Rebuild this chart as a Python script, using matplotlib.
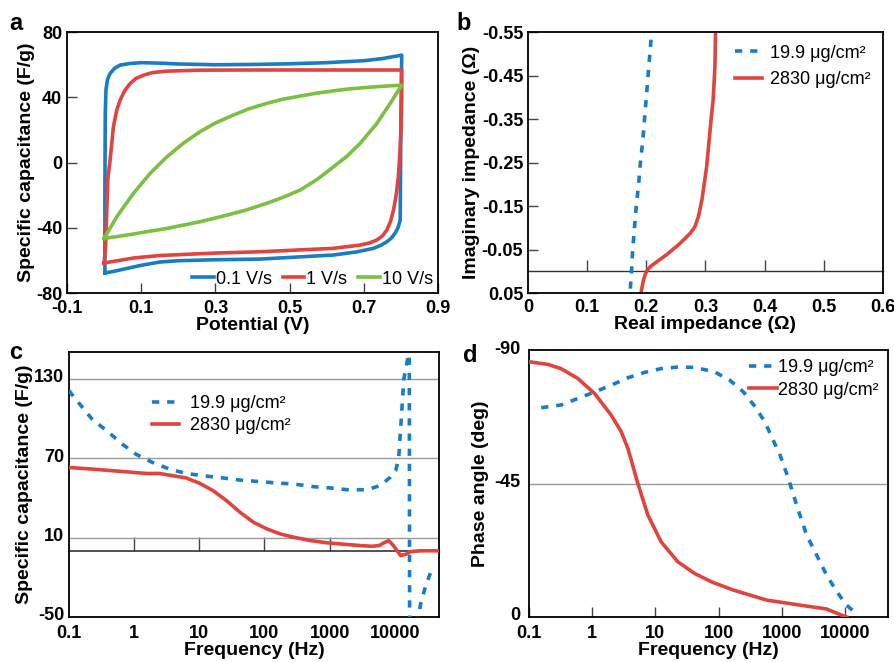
import matplotlib
matplotlib.use("Agg")
import matplotlib.pyplot as plt
import matplotlib.ticker as mticker
import matplotlib.transforms as mtransforms

plt.rcParams['font.family'] = ['Liberation Sans', 'DejaVu Sans']
plt.rcParams['axes.unicode_minus'] = False

# ---------------- Data ----------------
# Panel a: CV curves (Potential V, Specific capacitance F/g)
cv01_fwd_v = [0.002, 0.002, 0.003, 0.005, 0.009, 0.016, 0.028, 0.043, 0.07, 0.10, 0.15, 0.20, 0.30, 0.40, 0.50, 0.60, 0.70, 0.75, 0.802]
cv01_fwd_c = [-67.7, -20, 30, 45, 51, 54.7, 57.8, 59.8, 60.8, 61.3, 61.0, 60.5, 60.0, 60.2, 60.6, 61.3, 62.5, 63.8, 65.9]
cv01_rev_v = [0.802, 0.800, 0.799, 0.798, 0.792, 0.784, 0.774, 0.762, 0.745, 0.726, 0.68, 0.618, 0.42, 0.30, 0.20, 0.15, 0.10, 0.06, 0.02, 0.002]
cv01_rev_c = [65.9, 30, 0, -35.3, -40, -43.4, -46.3, -48.6, -50.8, -52.6, -54.8, -56.7, -59.2, -59.6, -60.2, -61.0, -63.0, -65.0, -67.0, -67.7]

cv1_fwd_v = [0.0, 0.004, 0.007, 0.010, 0.016, 0.025, 0.034, 0.043, 0.055, 0.07, 0.085, 0.106, 0.13, 0.169, 0.258, 0.40, 0.60, 0.802]
cv1_fwd_c = [-61.6, -50, -30, -10, 1.5, 22, 32.2, 38.3, 44, 48.5, 51.5, 53.6, 55.2, 56.1, 56.7, 56.8, 56.8, 56.8]
cv1_rev_v = [0.802, 0.802, 0.800, 0.797, 0.793, 0.787, 0.780, 0.772, 0.762, 0.750, 0.735, 0.715, 0.69, 0.618, 0.42, 0.30, 0.15, 0.08, 0.02, 0.0]
cv1_rev_c = [56.8, 40, 20, 5, -8.7, -20, -29.1, -36, -41.4, -45, -47.5, -49.3, -50.6, -52.6, -54.7, -55.5, -57.0, -58.5, -60.8, -61.6]

cv10_fwd_v = [0.0, 0.034, 0.079, 0.124, 0.169, 0.213, 0.258, 0.30, 0.348, 0.39, 0.438, 0.48, 0.528, 0.57, 0.618, 0.66, 0.708, 0.75, 0.802]
cv10_fwd_c = [-46.5, -33.2, -18.9, -6.6, 3.5, 11.8, 18.9, 24.3, 29.1, 33.0, 36.3, 38.8, 40.8, 42.5, 44.0, 45.2, 46.1, 46.8, 47.5]
cv10_rev_v = [0.802, 0.771, 0.735, 0.69, 0.655, 0.618, 0.575, 0.528, 0.48, 0.438, 0.411, 0.38, 0.348, 0.30, 0.258, 0.21, 0.169, 0.12, 0.079, 0.04, 0.0]
cv10_rev_c = [47.5, 36.3, 24.0, 11.8, 4.0, -2.6, -10.2, -16.9, -21.5, -25.0, -27.0, -29.3, -31.2, -34.0, -36.3, -38.5, -40.4, -42.2, -43.8, -45.2, -46.5]

cv_labels = ['0.1 V/s', '1 V/s', '10 V/s']

# Panel b: Nyquist (Real, Imaginary impedance, Ohm)
nyq_low_re = [0.173, 0.175, 0.177, 0.180, 0.183, 0.187, 0.190, 0.194, 0.197, 0.200, 0.203, 0.206, 0.209]
nyq_low_im = [0.04, 0.0, -0.05, -0.10, -0.15, -0.20, -0.25, -0.30, -0.35, -0.40, -0.45, -0.50, -0.55]
nyq_high_re = [0.191, 0.195, 0.198, 0.2007, 0.206, 0.218, 0.235, 0.257, 0.274, 0.282, 0.288, 0.294, 0.302, 0.310, 0.313, 0.316, 0.317]
nyq_high_im = [0.05, 0.021, 0.008, 0.0, -0.01, -0.022, -0.039, -0.064, -0.087, -0.102, -0.125, -0.164, -0.24, -0.356, -0.394, -0.47, -0.55]

mass_labels = ['19.9 μg/cm²', '2830 μg/cm²']

# Panel c: specific capacitance vs frequency
cap_low_f = [0.1, 0.105, 0.226, 0.41, 0.66, 1.06, 1.92, 3.5, 6.3, 11.4, 23.2, 42.3, 86, 156, 283, 575, 1050, 1900, 3800, 6000, 8600, 10350, 11500, 13800, 16500, 16700, 16900, 22000, 25000, 30000, 38000]
cap_low_c = [121.2, 119.4, 99.4, 89.3, 80.5, 73.0, 66.7, 61.7, 58.4, 56.7, 55.0, 53.4, 52.2, 51.2, 50.4, 48.4, 47.4, 46.1, 46.1, 49.4, 55.6, 60.6, 70, 130, 150, 160, -55, -55, -40, -26, -12.6]
cap_high_f = [0.1, 0.226, 0.74, 1.52, 2.44, 3.92, 6.3, 10.2, 16.3, 26.3, 42.3, 68, 109, 176, 283, 510, 925, 1900, 3000, 4500, 5800, 6800, 8100, 9500, 12300, 15000, 17500, 25000, 48000]
cap_high_c = [62.9, 61.7, 59.7, 58.4, 58.4, 56.7, 55.0, 50.9, 45.4, 37.8, 29.0, 21.5, 16.5, 12.7, 10.2, 7.7, 6.0, 4.7, 3.9, 3.4, 4.0, 6.0, 7.7, 4.0, -3.6, -2.5, -0.6, 0.0, 0.0]

# Panel d: phase angle vs frequency
ph_low_f = [0.156, 0.32, 0.59, 1.09, 2.0, 3.67, 6.75, 12.3, 22.7, 41.7, 86, 150, 245, 380, 540, 690, 940, 1270, 1720, 2480, 3560, 5100, 7400, 10600, 16000]
ph_low_a = [-70.6, -71.5, -73.7, -75.9, -78.2, -80.7, -82.5, -83.8, -84.3, -84.2, -82.7, -79.9, -76.0, -70.9, -65.8, -60.8, -54.6, -46.8, -37.7, -27.6, -20.9, -14.2, -8.6, -4.0, -0.7]
ph_high_f = [0.1, 0.2, 0.32, 0.59, 1.09, 2.0, 2.88, 3.67, 5.29, 7.6, 12.3, 22.7, 41.7, 76.4, 170, 575, 1950, 5100, 9400, 10600]
ph_high_a = [-86.1, -85.2, -83.8, -80.5, -75.4, -68.1, -62.5, -56.9, -45.0, -34.4, -25.4, -18.6, -14.7, -11.9, -9.1, -5.7, -4.0, -2.7, -0.4, 0.0]

freq_ticks = [0.1, 1, 10, 100, 1000, 10000]
freq_ticklabels = ['0.1', '1', '10', '100', '1000', '10000']

# ---------------- Style ----------------
BLUE = '#1a7cc4'
RED = '#e0443f'
GREEN = '#7cbf42'
GRID = '#9a9a9a'
LW = 2.6
DOT = (0, (2.0, 2.2))
TICKFS = 13
LABFS = 14
LEGFS = 13

fig = plt.figure(figsize=(8.94, 6.62), dpi=100)

def style_axes(ax):
    for s in ax.spines.values():
        s.set_linewidth(1.3)
        s.set_color('black')
    ax.tick_params(labelsize=TICKFS, direction='in', length=7, width=1.0, color='#444444')
    for lab in ax.get_xticklabels() + ax.get_yticklabels():
        lab.set_fontweight('bold')

def lift_yticklabels(ax, px):
    off = mtransforms.ScaledTranslation(0, px / 100.0, fig.dpi_scale_trans)
    for lab in ax.get_yticklabels():
        lab.set_transform(lab.get_transform() + off)

# ---- Panel a ----
axa = fig.add_axes([0.075, 0.5574, 0.415, 0.394])
axa.plot(cv01_fwd_v + cv01_rev_v, cv01_fwd_c + cv01_rev_c, color=BLUE, lw=LW, label=cv_labels[0])
axa.plot(cv1_fwd_v + cv1_rev_v, cv1_fwd_c + cv1_rev_c, color=RED, lw=LW, label=cv_labels[1])
axa.plot(cv10_fwd_v + cv10_rev_v, cv10_fwd_c + cv10_rev_c, color=GREEN, lw=LW, label=cv_labels[2])
axa.set_xlim(-0.1, 0.9)
axa.set_ylim(-80, 80)
axa.set_xticks([-0.1, 0.1, 0.3, 0.5, 0.7, 0.9])
axa.set_xticklabels(['-0.1', '0.1', '0.3', '0.5', '0.7', '0.9'])
axa.set_yticks([-80, -40, 0, 40, 80])
style_axes(axa)
axa.tick_params(axis='x', pad=5)
axa.set_xlabel('Potential (V)', fontsize=LABFS, fontweight='bold', labelpad=0)
axa.set_ylabel('Specific capacitance (F/g)', fontsize=LABFS, fontweight='bold', labelpad=1)
axa.legend(loc='lower right', ncol=3, frameon=False, fontsize=LEGFS, handlelength=1.2,
           handletextpad=0.1, columnspacing=0.6, borderaxespad=0.1, borderpad=0.2)

# ---- Panel b ----
axb = fig.add_axes([0.5906, 0.5574, 0.397, 0.394])
axb.plot(nyq_low_re, nyq_low_im, color=BLUE, lw=LW, ls=DOT, label=mass_labels[0])
axb.plot(nyq_high_re, nyq_high_im, color=RED, lw=LW, label=mass_labels[1])
axb.set_xlim(0, 0.6)
axb.set_ylim(0.05, -0.55)
axb.set_xticks([0, 0.1, 0.2, 0.3, 0.4, 0.5, 0.6])
axb.set_xticklabels(['0', '0.1', '0.2', '0.3', '0.4', '0.5', '0.6'])
axb.set_yticks([-0.55, -0.45, -0.35, -0.25, -0.15, -0.05, 0.05])
axb.set_yticklabels(['-0.55', '-0.45', '-0.35', '-0.25', '-0.15', '-0.05', '0.05'])
style_axes(axb)
axb.tick_params(axis='x', length=0, pad=4)
secb = axb.secondary_xaxis(0, transform=axb.transData)
secb.set_xticks([0.1, 0.2, 0.3, 0.4, 0.5])
secb.tick_params(direction='in', length=8, width=1.0, color='#444444', labelbottom=False)
for s in secb.spines.values():
    s.set_linewidth(1.0)
    s.set_color('#333333')
axb.set_xlabel('Real impedance (Ω)', fontsize=LABFS, fontweight='bold', labelpad=0)
axb.set_ylabel('Imaginary impedance (Ω)', fontsize=LABFS, fontweight='bold', labelpad=1)
axb.legend(loc='upper right', frameon=False, fontsize=LEGFS, handlelength=1.5,
           handletextpad=0.4, labelspacing=0.5, borderaxespad=0.3)

# ---- Panel c ----
axc = fig.add_axes([0.0772, 0.068, 0.414, 0.400])
axc.set_xscale('log')
for g in [10, 70, 130]:
    axc.axhline(g, color=GRID, lw=1.0, zorder=1)
axc.plot(cap_low_f, cap_low_c, color=BLUE, lw=LW, ls=DOT, label=mass_labels[0], zorder=3)
axc.plot(cap_high_f, cap_high_c, color=RED, lw=LW, label=mass_labels[1], zorder=3)
axc.set_xlim(0.1, 48000)
axc.set_ylim(-50, 150)
axc.set_xticks(freq_ticks)
axc.set_xticklabels(freq_ticklabels)
axc.xaxis.set_minor_locator(mticker.NullLocator())
axc.set_yticks([-50, 10, 70, 130])
style_axes(axc)
axc.tick_params(axis='both', length=0)
axc.tick_params(axis='x', pad=6)
lift_yticklabels(axc, 3)
secc = axc.secondary_xaxis(0, transform=axc.transData)
secc.set_xticks([1, 10, 100, 1000])
secc.xaxis.set_minor_locator(mticker.NullLocator())
secc.tick_params(direction='in', length=10, width=1.0, color='#444444', labelbottom=False)
for s in secc.spines.values():
    s.set_linewidth(1.2)
    s.set_color('#333333')
axc.set_xlabel('Frequency (Hz)', fontsize=LABFS, fontweight='bold', labelpad=0)
axc.set_ylabel('Specific capacitance (F/g)', fontsize=LABFS, fontweight='bold', labelpad=1)
axc.legend(loc='upper left', bbox_to_anchor=(0.18, 0.9), frameon=False, fontsize=LEGFS,
           handlelength=1.5, handletextpad=0.6, labelspacing=0.3)

# ---- Panel d ----
axd = fig.add_axes([0.5917, 0.068, 0.4016, 0.403])
axd.set_xscale('log')
axd.axhline(-45, color=GRID, lw=1.0, zorder=1)
axd.plot(ph_low_f, ph_low_a, color=BLUE, lw=LW, ls=DOT, label=mass_labels[0], zorder=3)
axd.plot(ph_high_f, ph_high_a, color=RED, lw=LW, label=mass_labels[1], zorder=3)
axd.set_xlim(0.1, 48000)
axd.set_ylim(0, -90)
axd.set_xticks(freq_ticks)
axd.set_xticklabels(freq_ticklabels)
axd.xaxis.set_minor_locator(mticker.NullLocator())
axd.set_yticks([0, -45, -90])
style_axes(axd)
axd.tick_params(axis='y', length=0, pad=6)
axd.tick_params(axis='x', pad=6)
lift_yticklabels(axd, 3)
axd.set_xlabel('Frequency (Hz)', fontsize=LABFS, fontweight='bold', labelpad=0)
axd.set_ylabel('Phase angle (deg)', fontsize=LABFS, fontweight='bold', labelpad=4)
axd.legend(loc='upper right', frameon=False, fontsize=LEGFS, handlelength=1.5,
           handletextpad=0.1, labelspacing=0.3, borderaxespad=0.1)

# Panel letters
for x, y, t in [(0.010, 0.955, 'a'), (0.511, 0.955, 'b'), (0.010, 0.458, 'c'), (0.518, 0.453, 'd')]:
    fig.text(x, y, t, fontsize=17, fontweight='bold', ha='left', va='baseline')

fig.savefig('out.png', dpi=100)
